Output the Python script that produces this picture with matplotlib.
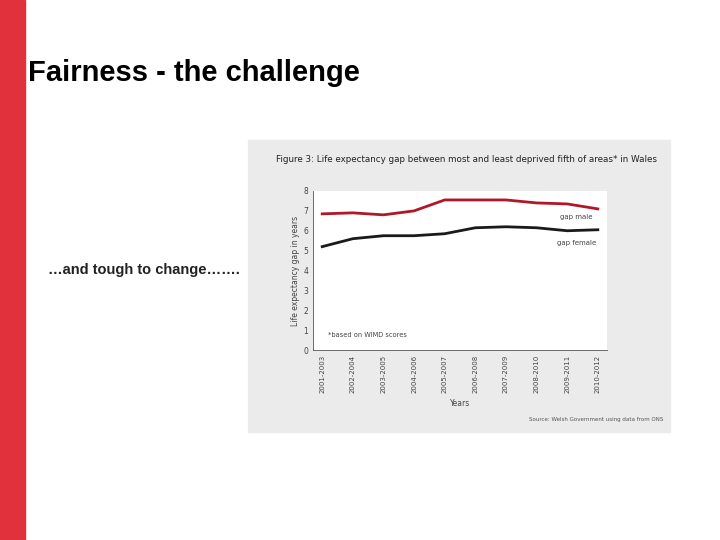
import matplotlib
matplotlib.use("Agg")
import matplotlib.pyplot as plt
from matplotlib.patches import Rectangle

periods = ["2001-2003","2002-2004","2003-2005","2004-2006","2005-2007",
           "2006-2008","2007-2009","2008-2010","2009-2011","2010-2012"]
gap_male = [6.85, 6.9, 6.8, 7.0, 7.55, 7.55, 7.55, 7.4, 7.35, 7.1]
gap_female = [5.2, 5.6, 5.75, 5.75, 5.85, 6.15, 6.2, 6.15, 6.0, 6.05]
yticks = list(range(0, 9))

fig = plt.figure(figsize=(7.2, 5.4), dpi=100)
bg = fig.add_axes([0, 0, 1, 1], zorder=-1)
bg.set_xlim(0, 720); bg.set_ylim(540, 0); bg.axis("off")
bg.add_patch(Rectangle((0, 0), 25, 540, color="#e0313c"))
bg.add_patch(Rectangle((248, 140), 422, 292, color="#ebebeb"))
bg.text(28, 73, "Fairness - the challenge", fontsize=21, fontweight="bold", va="center", ha="left",
        family="Liberation Sans")
bg.text(48, 270, "…and tough to change…….", fontsize=10.5, va="center", ha="left",
        family="Liberation Sans", fontweight="bold", color="#222222")
bg.text(276, 159, "Figure 3: Life expectancy gap between most and least deprived fifth of areas* in Wales",
        fontsize=6.3, va="center", ha="left", color="#222222")
bg.text(663, 419, "Source: Welsh Government using data from ONS", fontsize=4, ha="right",
        va="center", color="#555555")

ax = fig.add_axes([313/720, 1-350/540, 294/720, 159/540], zorder=1)
x = range(len(periods))
ax.plot(x, gap_male, color="#b0182a", lw=2)
ax.plot(x, gap_female, color="#1a1a1a", lw=2)
ax.set_ylim(0, 8)
ax.set_xlim(-0.3, 9.3)
ax.set_yticks(yticks)
ax.set_xticks(list(x))
ax.set_xticklabels(periods, rotation=90, fontsize=5, color="#444444")
ax.tick_params(axis="y", labelsize=5.5, colors="#444444", length=0)
ax.tick_params(axis="x", length=0)
for s in ["top", "right"]:
    ax.spines[s].set_visible(False)
for s in ["left", "bottom"]:
    ax.spines[s].set_color("#555555")
    ax.spines[s].set_linewidth(0.6)
ax.set_ylabel("Life expectancy gap in years", fontsize=5.5, color="#444444", labelpad=2)
ax.set_xlabel("Years", fontsize=5.5, color="#444444")
ax.text(8.3, 6.6, "gap male", fontsize=5, color="#444444", ha="center")
ax.text(8.3, 5.3, "gap female", fontsize=5, color="#444444", ha="center")
ax.text(0.2, 0.65, "*based on WIMD scores", fontsize=4.8, color="#444444")

fig.savefig("out.png", dpi=100)
